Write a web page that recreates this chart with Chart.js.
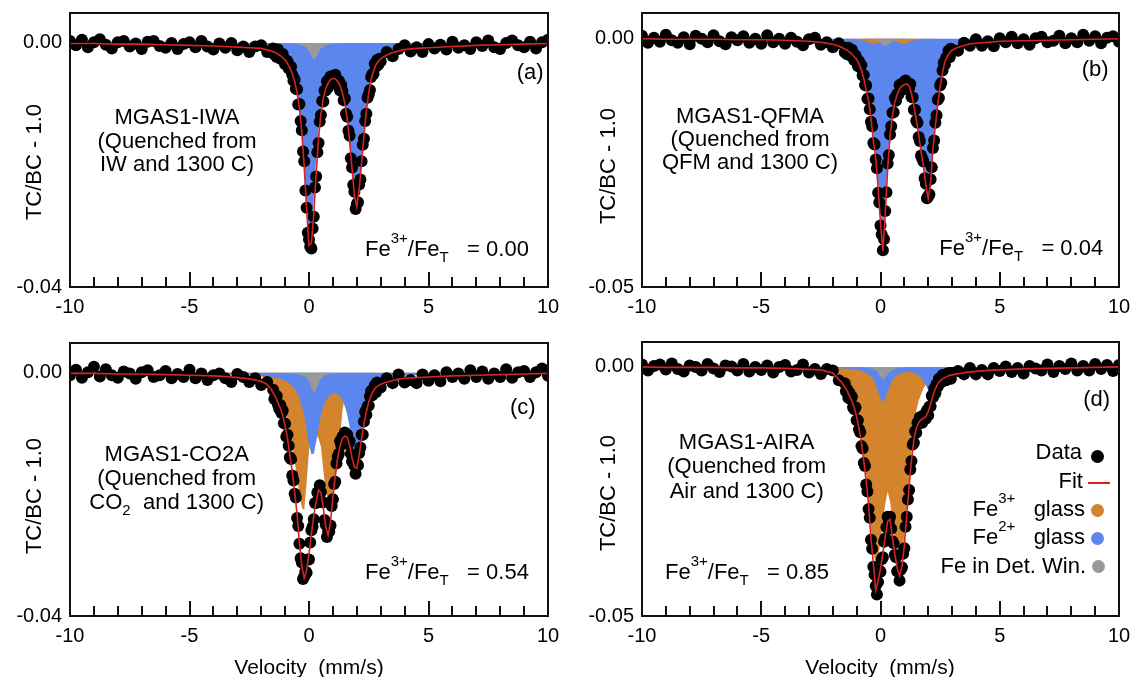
<!DOCTYPE html>
<html>
<head>
<meta charset="utf-8">
<title>Mossbauer spectra MGAS1</title>
<script src="https://cdn.jsdelivr.net/npm/chart.js@4.4.1/dist/chart.umd.min.js"></script>
<style>
  body { margin: 0; background: #fff; }
  #fig { position: relative; width: 1132px; height: 677px; overflow: hidden;
         font-family: 'Liberation Sans', Arial, Helvetica, sans-serif; color: #000; }
  canvas { position: absolute; }
  .t { position: absolute; white-space: nowrap; }
  .t sup, .t sub { font-size: 15px; line-height: 0; }
  .t sup { vertical-align: 13px; }
  .t sub { vertical-align: -6px; }
  .yt { position: absolute; font-size: 22px; line-height: 22px; white-space: nowrap;
        transform: translate(-50%, -50%) rotate(-90deg); }
  .dot { position: absolute; border-radius: 50%; }
</style>
</head>
<body>
<div id="fig">
  <canvas id="pa" width="566" height="320" style="left:0;top:0"></canvas>
  <canvas id="pb" width="566" height="320" style="left:566px;top:0"></canvas>
  <canvas id="pc" width="566" height="357" style="left:0;top:320px"></canvas>
  <canvas id="pd" width="566" height="357" style="left:566px;top:320px"></canvas>
</div>
<script>
// velocities (mm/s) of the data channels
const vel = [-10,-9.75,-9.5,-9.25,-9,-8.75,-8.5,-8.25,-8,-7.75,-7.5,-7.25,-7,-6.75,-6.5,-6.25,-6,-5.75,-5.5,-5.25,-5,-4.75,-4.5,-4.25,-4,-3.75,-3.5,-3.25,-3,-2.75,-2.5,-2.25,-2,-1.75,
  -1.5,-1.45,-1.4,-1.35,-1.3,-1.25,-1.2,-1.15,-1.1,-1.05,-1,-0.95,-0.9,-0.85,-0.8,-0.75,-0.7,-0.65,-0.6,-0.55,-0.5,-0.45,-0.4,-0.35,-0.3,-0.25,-0.2,-0.15,-0.1,-0.05,
  0,0.05,0.1,0.15,0.2,0.25,0.3,0.35,0.4,0.45,0.5,0.55,0.6,0.65,0.7,0.75,0.8,0.85,0.9,0.95,
  1,1.05,1.1,1.15,1.2,1.25,1.3,1.35,1.4,1.45,1.5,1.55,1.6,1.65,1.7,1.75,1.8,1.85,1.9,1.95,
  2,2.05,2.1,2.15,2.2,2.25,2.3,2.35,2.4,2.45,2.5,2.55,2.6,2.65,2.7,2.75,2.8,2.85,2.9,2.95,3,
  3.25,3.5,3.75,4,4.25,4.5,4.75,5,5.25,5.5,5.75,6,6.25,6.5,6.75,7,7.25,7.5,7.75,8,8.25,8.5,8.75,9,9.25,9.5,9.75,10];

// velocities for the fit and the sub-spectra
const velFit = [-10,-9,-8,-7,-6,-5,-4,-3.5,-3,-2.5,-2,-1.8,-1.6,-1.4,-1.2,
  -1.1,-1,-0.9,-0.8,-0.7,-0.6,-0.5,-0.4,-0.3,-0.2,-0.1,
  0,0.1,0.2,0.3,0.4,0.5,0.6,0.7,0.8,0.9,
  1,1.1,1.2,1.3,1.4,1.5,1.6,1.7,1.8,1.9,
  2,2.1,2.2,2.3,2.4,2.5,2.6,2.7,2.8,2.9,3,
  3.2,3.4,3.6,3.8,4,4.5,5,6,7,8,9,10];

// all y values below are TC/BC - 1.0 in units of 1e-4

// (a) MGAS1-IWA
const dataA = [3,-4,5,-7,1,6,-3,-9,1,3,-6,-1,-10,2,3,-5,-8,0,-10,-2,1,-7,3,-6,-11,-1,-8,0,-12,-6,-15,-6,-4,-15,
  -9,-19,-14,-23,-11,-21,-26,-20,-18,-29,-35,-29,-30,-42,-40,-39,-52,-62,-60,-75,-76,-101,-100,-128,-143,-178,-194,-242,-270,-311,
  -322,-334,-337,-304,-285,-237,-219,-179,-164,-129,-118,-95,-96,-78,-78,-63,-73,-60,-55,-63,
  -57,-64,-52,-63,-68,-62,-78,-69,-79,-94,-91,-116,-121,-144,-152,-189,-204,-233,-244,-272,
  -264,-261,-232,-224,-194,-167,-157,-128,-116,-90,-84,-77,-56,-51,-51,-34,-39,-28,-36,-26,-30,
  -15,-22,-10,-4,-14,-7,-15,-2,-9,-3,-11,2,-8,-4,-10,1,-5,4,-7,-10,0,4,-4,-7,2,-9,1,5];
const fitA = [-1,-1,-2,-2,-3,-4,-5,-6,-7,-8,-9,-11,-13,-16,-21,
  -24,-28,-34,-41,-50,-63,-81,-107,-147,-203,-272,
  -332,-328,-281,-213,-156,-116,-91,-75,-66,-60,
  -58,-59,-63,-70,-82,-99,-125,-161,-206,-250,
  -269,-240,-196,-152,-112,-82,-60,-46,-36,-30,-26,
  -21,-17,-15,-13,-11,-9,-8,-6,-4,-3,-2,-1];
const fe2A = [-1,-1,-2,-2,-3,-4,-5,-6,-7,-8,-9,-11,-13,-16,-21,
  -23,-27,-33,-40,-49,-61,-79,-104,-143,-198,-264,
  -319,-307,-253,-189,-141,-107,-85,-71,-63,-58,
  -56,-58,-62,-69,-81,-99,-125,-161,-206,-250,
  -269,-240,-196,-152,-112,-82,-60,-46,-36,-30,-26,
  -21,-17,-15,-13,-11,-9,-8,-6,-4,-3,-2,-1];
const detA = [0,0,0,0,0,0,0,0,0,0,0,0,0,0,0,
  -1,-1,-1,-1,-1,-2,-2,-3,-4,-5,-8,
  -13,-21,-28,-24,-15,-9,-6,-4,-3,-2,
  -2,-1,-1,-1,-1,0,0,0,0,0,
  0,0,0,0,0,0,0,0,0,0,0,
  0,0,0,0,0,0,0,0,0,0,0,0];

// (b) MGAS1-QFMA
const dataB = [6,-8,2,-6,8,-3,-8,3,-11,6,0,-7,7,-5,-11,3,-3,5,-8,0,-10,7,-7,0,-10,2,-6,-13,-1,2,-12,-7,-17,-9,
  -27,-18,-31,-18,-25,-34,-22,-36,-43,-33,-40,-55,-45,-58,-53,-74,-73,-93,-94,-121,-120,-142,-167,-176,-210,-213,-243,-261,-310,-330,
  -376,-394,-426,-404,-347,-309,-251,-234,-193,-176,-149,-148,-119,-125,-111,-112,-93,-101,-90,-102,
  -88,-84,-97,-91,-99,-91,-117,-118,-143,-143,-165,-169,-198,-206,-235,-241,-247,-281,-292,-321,
  -317,-313,-283,-259,-220,-205,-169,-154,-123,-119,-94,-89,-64,-48,-52,-38,-39,-24,-37,-20,-26,
  -24,-8,-14,-1,-14,-5,-15,1,-7,4,-9,-1,-12,1,4,-7,-4,6,-9,1,-7,8,-4,5,-9,2,5,-6];
const fitB = [0,-1,-1,-1,-2,-2,-3,-4,-5,-7,-11,-14,-18,-23,-31,
  -36,-41,-51,-63,-80,-104,-124,-160,-205,-240,-300,
  -370,-428,-352,-262,-196,-155,-128,-112,-101,-95,
  -92,-91,-95,-110,-135,-163,-193,-228,-255,-295,
  -322,-290,-222,-175,-132,-97,-68,-46,-35,-28,-23,
  -18,-15,-12,-10,-9,-7,-5,-4,-3,-2,-1,0];
const fe3B = [0,0,0,0,0,0,0,0,0,0,0,0,0,-1,-1,
  -1,-2,-2,-3,-4,-5,-7,-9,-10,-10,-8,
  -6,-5,-4,-4,-4,-4,-5,-6,-8,-10,
  -10,-9,-7,-5,-4,-3,-2,-2,-1,-1,
  -1,-1,-1,0,0,0,0,0,0,0,0,
  0,0,0,0,0,0,0,0,0,0,0,0];
const fe2B = [0,-1,-1,-1,-2,-2,-3,-4,-5,-7,-11,-14,-18,-22,-30,
  -35,-39,-49,-60,-76,-98,-116,-149,-193,-227,-287,
  -356,-410,-332,-245,-184,-146,-120,-104,-91,-84,
  -81,-82,-88,-105,-131,-160,-191,-226,-254,-294,
  -321,-289,-221,-175,-132,-97,-68,-46,-35,-28,-23,
  -18,-15,-12,-10,-9,-7,-5,-4,-3,-2,-1,0];
const detB = [0,0,0,0,0,0,0,0,0,0,0,0,0,0,0,
  0,0,0,0,0,-1,-1,-2,-2,-3,-5,
  -8,-13,-16,-13,-8,-5,-3,-2,-2,-1,
  -1,0,0,0,0,0,0,0,0,0,
  0,0,0,0,0,0,0,0,0,0,0,
  0,0,0,0,0,0,0,0,0,0,0,0];

// (c) MGAS1-CO2A
const dataC = [-4,5,-8,1,10,-6,6,-4,-8,2,-1,-10,1,4,-7,-4,3,-9,-2,-7,5,-9,-1,-12,-4,-1,-9,-15,-2,-7,-15,-9,-20,-15,
  -28,-43,-38,-38,-52,-59,-53,-66,-62,-83,-84,-105,-102,-120,-139,-142,-169,-177,-199,-205,-239,-252,-281,-305,-312,-339,-335,-327,-329,-307,
  -307,-279,-259,-253,-241,-214,-214,-197,-200,-185,-196,-213,-213,-242,-250,-270,-261,-261,-251,-219,
  -208,-183,-179,-149,-138,-133,-112,-119,-105,-112,-98,-105,-102,-117,-112,-133,-146,-143,-153,-166,
  -150,-152,-132,-123,-102,-102,-80,-64,-69,-55,-54,-39,-30,-37,-31,-21,-32,-16,-24,-18,-24,
  -9,-17,-3,-16,-12,-17,-3,-13,-4,-14,1,-7,-1,-10,4,-7,2,-10,-1,-7,6,-8,1,3,-7,1,7,-5];
const fitC = [-1,-1,-2,-2,-3,-4,-5,-6,-8,-10,-14,-18,-26,-40,-58,
  -70,-87,-108,-135,-163,-196,-232,-280,-318,-338,-325,
  -298,-265,-235,-212,-193,-197,-222,-253,-267,-245,
  -205,-170,-140,-120,-108,-104,-106,-120,-140,-155,
  -157,-135,-108,-84,-64,-48,-37,-29,-24,-21,-19,
  -16,-14,-12,-10,-9,-8,-7,-5,-4,-3,-2,-1];
const fe3C = [0,0,0,0,-1,-1,-2,-2,-3,-4,-6,-9,-14,-25,-42,
  -52,-64,-80,-100,-122,-146,-172,-200,-222,-226,-180,
  -128,-106,-100,-102,-108,-122,-160,-195,-212,-214,
  -200,-172,-148,-105,-62,-40,-28,-22,-18,-15,
  -13,-11,-9,-8,-7,-6,-5,-5,-4,-4,-3,
  -3,-2,-2,-2,-2,-1,-1,-1,0,0,0,0];
const fe2C = [0,0,-1,-1,-1,-1,-2,-2,-3,-4,-5,-6,-7,-8,-10,
  -12,-13,-15,-18,-22,-27,-33,-42,-54,-71,-93,
  -118,-134,-133,-114,-91,-70,-55,-47,-40,-36,
  -34,-34,-36,-39,-46,-55,-69,-89,-112,-133,
  -139,-125,-100,-77,-58,-45,-35,-28,-23,-19,-16,
  -12,-9,-7,-6,-5,-4,-3,-2,-1,-1,-1,0];
const detC = [0,0,0,0,0,0,0,0,0,0,0,0,0,0,0,
  0,0,0,-1,-1,-2,-2,-3,-4,-5,-8,
  -14,-24,-34,-28,-17,-10,-6,-4,-3,-2,
  -2,-1,-1,0,0,0,0,0,0,0,
  0,0,0,0,0,0,0,0,0,0,0,
  0,0,0,0,0,0,0,0,0,0,0,0];

// (d) MGAS1-AIRA
const dataD = [5,-7,2,5,-5,7,-4,-9,3,0,-7,6,-3,-10,3,1,-7,6,-9,0,-6,3,-11,0,4,-9,-6,5,-11,-4,-14,-4,-7,-27,
  -33,-49,-45,-62,-52,-65,-60,-81,-85,-81,-107,-107,-125,-131,-159,-164,-193,-199,-236,-250,-285,-303,-347,-365,-401,-417,-440,-457,-432,-408,
  -411,-386,-382,-351,-344,-322,-301,-311,-301,-325,-350,-354,-377,-382,-410,-411,-429,-407,-402,-375,
  -364,-321,-301,-266,-247,-206,-189,-156,-152,-129,-132,-112,-114,-101,-111,-112,-97,-99,-104,-87,
  -97,-80,-79,-58,-61,-44,-53,-35,-40,-24,-30,-31,-16,-26,-18,-27,-13,-21,-12,-24,-12,
  -8,-15,-2,-15,-6,-15,-2,-8,1,-10,-2,-13,2,-3,-7,5,-10,2,-4,7,-7,2,-7,6,-4,4,-8,4];
const fitD = [0,-1,-1,-1,-2,-2,-3,-4,-5,-6,-12,-22,-33,-48,-68,
  -82,-100,-124,-151,-189,-230,-276,-344,-394,-448,-430,
  -405,-374,-340,-310,-306,-342,-376,-405,-420,-400,
  -358,-297,-240,-186,-146,-123,-112,-106,-103,-100,
  -90,-74,-58,-44,-34,-28,-24,-21,-19,-17,-16,
  -14,-13,-11,-10,-9,-7,-6,-4,-3,-2,-1,0];
const fe3D = [0,0,-1,-1,-1,-2,-2,-3,-4,-5,-8,-13,-22,-36,-58,
  -72,-90,-114,-141,-178,-218,-262,-325,-370,-395,-385,
  -350,-310,-275,-250,-270,-310,-345,-372,-385,-375,
  -340,-285,-225,-168,-115,-88,-68,-55,-44,-36,
  -30,-25,-21,-18,-15,-13,-11,-10,-9,-8,-7,
  -6,-5,-5,-4,-4,-3,-3,-2,-1,-1,-1,0];
const fe2D = [0,0,0,0,0,-1,-1,-1,-1,-1,-2,-2,-3,-3,-4,
  -5,-6,-6,-8,-9,-12,-15,-19,-26,-36,-50,
  -64,-71,-64,-50,-37,-27,-21,-16,-14,-12,
  -11,-10,-10,-11,-12,-14,-16,-21,-28,-37,
  -47,-53,-52,-45,-36,-27,-20,-15,-12,-9,-8,
  -5,-4,-3,-2,-2,-1,-1,0,0,0,0,0];
const detD = [0,0,0,0,0,0,0,0,0,0,0,0,0,0,0,
  0,0,0,-1,-1,-2,-2,-3,-5,-7,-12,
  -19,-26,-22,-14,-9,-6,-4,-3,-2,-2,
  -1,-1,0,0,0,0,0,0,0,0,
  0,0,0,0,0,0,0,0,0,0,0,
  0,0,0,0,0,0,0,0,0,0,0,0];

const yTicks40 = [-0.04, 0];
const yTicks50 = [-0.05, 0];

const FONT = "'Liberation Sans', Arial, Helvetica, sans-serif";
const RED = '#d42424', BLUE = '#5a86ee', ORANGE = '#d4842c', GREY = '#999999';
Chart.defaults.font.family = FONT;
Chart.defaults.color = '#000';

function pts(xs, ys) {
  return xs.map((x, i) => ({ x: x, y: ys[i] / 10000 }));
}

// box round the plot and the little velocity ticks inside the bottom axis
const boxTicks = {
  id: 'boxTicks',
  afterDatasetsDraw(chart) {
    const ctx = chart.ctx, a = chart.chartArea, xs = chart.scales.x;
    ctx.save();
    ctx.strokeStyle = '#111';
    ctx.lineWidth = 2;
    ctx.strokeRect(a.left, a.top, a.right - a.left, a.bottom - a.top);
    for (let v = -9; v <= 9; v++) {
      const px = Math.round(xs.getPixelForValue(v));
      const len = v % 5 === 0 ? 15 : 10;
      ctx.beginPath();
      ctx.moveTo(px, a.bottom);
      ctx.lineTo(px, a.bottom - len);
      ctx.stroke();
    }
    ctx.restore();
  }
};

function makePanel(id, o) {
  const ds = [
    { data: pts(velFit, o.fit), borderColor: RED, borderWidth: 1.6, pointRadius: 0, fill: false, order: 0 },
    { data: pts(vel, o.data), showLine: false, pointRadius: 6, pointBackgroundColor: '#000',
      pointBorderWidth: 0, order: 1 }
  ];
  o.parts.forEach((p, k) => {
    ds.push({ data: pts(velFit, p.v), borderWidth: 0, borderColor: 'rgba(0,0,0,0)', backgroundColor: p.c,
              pointRadius: 0, fill: 'origin', order: 2 + k });
  });
  return new Chart(document.getElementById(id), {
    type: 'line',
    data: { datasets: ds },
    options: {
      responsive: false, animation: false, events: [], devicePixelRatio: 1,
      layout: { padding: { left: 0, top: o.top, right: o.right, bottom: 0 } },
      plugins: { legend: { display: false }, tooltip: { enabled: false } },
      scales: {
        x: {
          type: 'linear', min: -10, max: 10,
          grid: { display: false, drawTicks: false }, border: { display: false },
          ticks: { stepSize: 5, autoSkip: false, maxRotation: 0, padding: 8, font: { size: 20 } },
          afterFit: s => { s.height = o.xh; s.paddingLeft = 0; s.paddingRight = 0; }
        },
        y: {
          type: 'linear', min: o.ymin, max: o.ymax,
          grid: { display: false, drawTicks: false }, border: { display: false },
          afterBuildTicks: s => { s.ticks = o.yt.map(v => ({ value: v })); },
          ticks: { padding: 8, font: { size: 20 }, callback: v => v.toFixed(2) },
          afterFit: s => { s.width = o.yw; s.paddingTop = 0; s.paddingBottom = 0; }
        }
      }
    },
    plugins: [boxTicks]
  });
}

makePanel('pa', { data: dataA, fit: fitA, parts: [{ v: detA, c: GREY }, { v: fe2A, c: BLUE }],
  ymin: -0.04, ymax: 0.0049, yt: yTicks40, top: 13, right: 18, yw: 70, xh: 33 });
makePanel('pb', { data: dataB, fit: fitB, parts: [{ v: detB, c: GREY }, { v: fe3B, c: ORANGE }, { v: fe2B, c: BLUE }],
  ymin: -0.05, ymax: 0.0052, yt: yTicks50, top: 13, right: 13, yw: 76, xh: 33 });
makePanel('pc', { data: dataC, fit: fitC, parts: [{ v: detC, c: GREY }, { v: fe2C, c: BLUE }, { v: fe3C, c: ORANGE }],
  ymin: -0.04, ymax: 0.0049, yt: yTicks40, top: 23, right: 18, yw: 70, xh: 61 });
makePanel('pd', { data: dataD, fit: fitD, parts: [{ v: detD, c: GREY }, { v: fe2D, c: BLUE }, { v: fe3D, c: ORANGE }],
  ymin: -0.05, ymax: 0.005, yt: yTicks50, top: 22, right: 13, yw: 76, xh: 61 });

// ---- text ----
const fig = document.getElementById('fig');
function txt(html, x, base, align, size) {
  size = size || 22;
  const d = document.createElement('div');
  d.className = 't';
  d.innerHTML = html;
  d.style.fontSize = size + 'px';
  d.style.lineHeight = size + 'px';
  d.style.left = x + 'px';
  d.style.top = (base - 0.846 * size) + 'px';
  if (align === 'center') d.style.transform = 'translateX(-50%)';
  if (align === 'right') d.style.transform = 'translateX(-100%)';
  fig.appendChild(d);
}
function ytitle(x, y) {
  const d = document.createElement('div');
  d.className = 'yt';
  d.textContent = 'TC/BC - 1.0';
  d.style.left = x + 'px';
  d.style.top = y + 'px';
  fig.appendChild(d);
}
function dot(cx, cy, r, c) {
  const d = document.createElement('div');
  d.className = 'dot';
  d.style.left = (cx - r) + 'px';
  d.style.top = (cy - r) + 'px';
  d.style.width = d.style.height = (2 * r) + 'px';
  d.style.background = c;
  fig.appendChild(d);
}

ytitle(33.5, 162); ytitle(607.5, 166); ytitle(34, 496); ytitle(607.5, 493);
txt('Velocity&nbsp; (mm/s)', 309, 674, 'center', 21);
txt('Velocity&nbsp; (mm/s)', 880, 674, 'center', 21);

txt('MGAS1-IWA', 177, 125, 'center');
txt('(Quenched from', 177, 148.3, 'center');
txt('IW and 1300 C)', 177, 171.7, 'center');
txt('MGAS1-QFMA', 750, 123.3, 'center');
txt('(Quenched from', 750, 146.7, 'center');
txt('QFM and 1300 C)', 750, 170, 'center');
txt('MGAS1-CO2A', 176.7, 461.7, 'center');
txt('(Quenched from', 176.7, 485.5, 'center');
txt('CO<sub>2</sub>&nbsp; and 1300 C)', 176.7, 510, 'center');
txt('MGAS1-AIRA', 746.7, 450, 'center');
txt('(Quenched from', 746.7, 473.3, 'center');
txt('Air and 1300 C)', 746.7, 498.3, 'center');

const ratio = r => 'Fe<sup>3+</sup>/Fe<sub>T</sub>&nbsp;&nbsp;&nbsp;= ' + r;
txt(ratio('0.00'), 365, 256.7);
txt(ratio('0.04'), 939.3, 256);
txt(ratio('0.54'), 365, 580);
txt(ratio('0.85'), 665, 580);

txt('(a)', 516.7, 80);
txt('(b)', 1081.7, 77);
txt('(c)', 510, 415);
txt('(d)', 1083.3, 407);

// legend of panel (d)
txt('Data', 1082, 460, 'right');
txt('Fit', 1083, 488.3, 'right');
txt('Fe<sup>3+</sup>&nbsp;&nbsp; glass', 1085, 516.7, 'right');
txt('Fe<sup>2+</sup>&nbsp;&nbsp; glass', 1085, 545, 'right');
txt('Fe in Det. Win.', 1086, 573.3, 'right');
dot(1097, 456, 6.5, '#000');
dot(1097, 510, 6.5, ORANGE);
dot(1097, 538.3, 6.5, BLUE);
dot(1098.3, 566.7, 6.5, GREY);
const fitKey = document.createElement('div');
fitKey.style.cssText = 'position:absolute;left:1088px;top:482px;width:22px;height:2px;background:' + RED;
fig.appendChild(fitKey);
</script>
</body>
</html>
